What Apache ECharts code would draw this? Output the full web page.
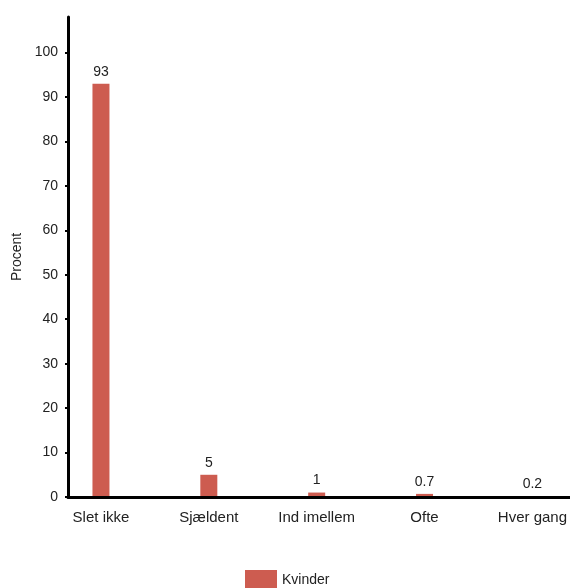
<!DOCTYPE html>
<html><head><meta charset="utf-8">
<script src="https://cdn.jsdelivr.net/npm/echarts@6/dist/echarts.min.js"></script>
<style>html,body{margin:0;padding:0;background:#fff}#c{width:570px;height:588px}</style>
</head><body><div id="c"></div>
<script>
const categories = ['Slet ikke', 'Sjældent', 'Ind imellem', 'Ofte', 'Hver gang'];
const kvinder = [93, 5, 1, 0.7, 0.2];
const seriesName = 'Kvinder';
const yTicks = { min: 0, max: 108, interval: 10 };

const categoryIndex = categories.map((c, i) => i);
const chart = echarts.init(document.getElementById('c'), null, { renderer: 'canvas' });
const font = 'Liberation Sans, Arial, sans-serif';
chart.setOption({
  animation: false,
  backgroundColor: '#fff',
  textStyle: { fontFamily: font },
  legend: {
    data: [seriesName], top: 570, left: 245, padding: 0, icon: 'rect', itemWidth: 32, itemHeight: 20, itemGap: 6,
    textStyle: { fontSize: 14, color: '#222', fontFamily: font }
  },
  grid: { left: 68, right: 0, top: 17, bottom: 91, containLabel: false },
  xAxis: {
    type: 'value', min: -0.3056, max: 4.343, z: 5,
    axisLine: { show: true, onZero: false, lineStyle: { color: '#000', width: 3 } },
    axisTick: { show: false },
    splitLine: { show: false },
    axisLabel: { customValues: categoryIndex, formatter: v => categories[Math.round(v)] || '',
      fontSize: 15, color: '#222', margin: 13, fontFamily: font }
  },
  yAxis: {
    type: 'value', min: yTicks.min, max: yTicks.max, interval: yTicks.interval, z: 5,
    name: 'Procent', nameLocation: 'middle', nameGap: 41, nameRotate: 90,
    nameTextStyle: { fontSize: 14, color: '#222', fontFamily: font },
    axisLine: { show: true, onZero: false, lineStyle: { color: '#000', width: 3 } },
    axisTick: { show: true, length: 3, lineStyle: { color: '#000', width: 2 } },
    axisLabel: { fontSize: 14, color: '#222', margin: 10, fontFamily: font, showMaxLabel: false },
    splitLine: { show: false }
  },
  series: [{
    name: seriesName, type: 'bar',
    data: kvinder.map((v, i) => [categoryIndex[i], v]), barWidth: 17,
    itemStyle: { color: '#CD5C50' },
    label: { show: true, position: 'top', distance: 5, fontSize: 14, color: '#222', fontFamily: font,
      formatter: p => String(p.value[1]) }
  }]
});
</script></body></html>
